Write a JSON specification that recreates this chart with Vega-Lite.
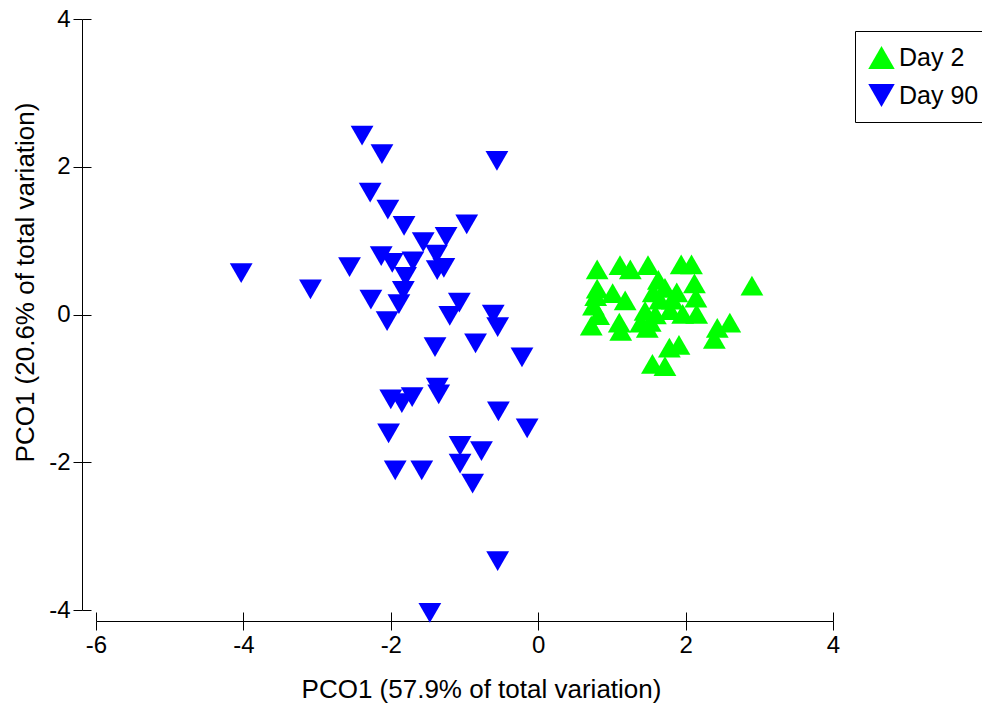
{
  "$schema": "https://vega.github.io/schema/vega-lite/v6.json",
  "autosize": "none",
  "width": 737,
  "height": 591,
  "padding": {"left": 96, "top": 19, "right": 149, "bottom": 94},
  "background": "white",
  "config": {
    "view": {"stroke": null},
    "font": "Liberation Sans",
    "axis": {"grid": false, "labelFont": "Liberation Sans", "titleFont": "Liberation Sans", "labelColor": "black", "titleColor": "black", "domainColor": "black", "tickColor": "black", "titleFontWeight": "normal"},
    "legend": {"orient": "none", "legendX": 759, "legendY": 12, "strokeColor": "black", "strokeWidth": 1, "fillColor": "white", "padding": 13, "labelFont": "Liberation Sans", "labelFontSize": 25, "labelColor": "black", "labelOffset": 4, "symbolSize": 700, "symbolStrokeWidth": 0, "rowPadding": 11, "title": null}
  },
  "datasets": {
    "pts": [
      {"x": 0.80, "y": 0.61, "day": "Day 2"},
      {"x": 1.11, "y": 0.67, "day": "Day 2"},
      {"x": 1.25, "y": 0.61, "day": "Day 2"},
      {"x": 1.49, "y": 0.67, "day": "Day 2"},
      {"x": 1.94, "y": 0.68, "day": "Day 2"},
      {"x": 2.08, "y": 0.68, "day": "Day 2"},
      {"x": 2.90, "y": 0.39, "day": "Day 2"},
      {"x": 2.12, "y": 0.42, "day": "Day 2"},
      {"x": 2.14, "y": 0.23, "day": "Day 2"},
      {"x": 1.96, "y": 0.01, "day": "Day 2"},
      {"x": 2.15, "y": 0.01, "day": "Day 2"},
      {"x": 2.60, "y": -0.11, "day": "Day 2"},
      {"x": 2.43, "y": -0.18, "day": "Day 2"},
      {"x": 2.39, "y": -0.33, "day": "Day 2"},
      {"x": 1.91, "y": -0.41, "day": "Day 2"},
      {"x": 1.78, "y": -0.45, "day": "Day 2"},
      {"x": 1.55, "y": -0.67, "day": "Day 2"},
      {"x": 1.72, "y": -0.70, "day": "Day 2"},
      {"x": 0.80, "y": 0.35, "day": "Day 2"},
      {"x": 0.78, "y": 0.25, "day": "Day 2"},
      {"x": 0.75, "y": 0.12, "day": "Day 2"},
      {"x": 1.01, "y": 0.29, "day": "Day 2"},
      {"x": 1.18, "y": 0.19, "day": "Day 2"},
      {"x": 0.72, "y": -0.15, "day": "Day 2"},
      {"x": 0.82, "y": -0.01, "day": "Day 2"},
      {"x": 1.10, "y": -0.11, "day": "Day 2"},
      {"x": 1.12, "y": -0.22, "day": "Day 2"},
      {"x": 1.39, "y": -0.11, "day": "Day 2"},
      {"x": 1.48, "y": -0.18, "day": "Day 2"},
      {"x": 1.63, "y": 0.47, "day": "Day 2"},
      {"x": 1.72, "y": 0.36, "day": "Day 2"},
      {"x": 1.65, "y": 0.20, "day": "Day 2"},
      {"x": 1.82, "y": 0.20, "day": "Day 2"},
      {"x": 1.59, "y": 0.00, "day": "Day 2"},
      {"x": 1.52, "y": -0.10, "day": "Day 2"},
      {"x": 1.79, "y": 0.06, "day": "Day 2"},
      {"x": 1.56, "y": 0.30, "day": "Day 2"},
      {"x": 1.88, "y": 0.30, "day": "Day 2"},
      {"x": 1.45, "y": 0.05, "day": "Day 2"},
      {"x": -2.39, "y": 2.42, "day": "Day 90"},
      {"x": -2.12, "y": 2.17, "day": "Day 90"},
      {"x": -0.56, "y": 2.08, "day": "Day 90"},
      {"x": -2.28, "y": 1.65, "day": "Day 90"},
      {"x": -2.04, "y": 1.42, "day": "Day 90"},
      {"x": -1.82, "y": 1.20, "day": "Day 90"},
      {"x": -0.97, "y": 1.22, "day": "Day 90"},
      {"x": -1.25, "y": 1.05, "day": "Day 90"},
      {"x": -1.56, "y": 0.98, "day": "Day 90"},
      {"x": -4.03, "y": 0.56, "day": "Day 90"},
      {"x": -3.09, "y": 0.34, "day": "Day 90"},
      {"x": -2.56, "y": 0.64, "day": "Day 90"},
      {"x": -2.13, "y": 0.79, "day": "Day 90"},
      {"x": -1.98, "y": 0.70, "day": "Day 90"},
      {"x": -1.70, "y": 0.72, "day": "Day 90"},
      {"x": -1.80, "y": 0.51, "day": "Day 90"},
      {"x": -1.83, "y": 0.32, "day": "Day 90"},
      {"x": -1.89, "y": 0.14, "day": "Day 90"},
      {"x": -1.38, "y": 0.81, "day": "Day 90"},
      {"x": -1.37, "y": 0.60, "day": "Day 90"},
      {"x": -1.28, "y": 0.63, "day": "Day 90"},
      {"x": -2.27, "y": 0.20, "day": "Day 90"},
      {"x": -2.05, "y": -0.09, "day": "Day 90"},
      {"x": -1.07, "y": 0.16, "day": "Day 90"},
      {"x": -1.20, "y": -0.02, "day": "Day 90"},
      {"x": -0.61, "y": 0.00, "day": "Day 90"},
      {"x": -0.55, "y": -0.17, "day": "Day 90"},
      {"x": -1.40, "y": -0.44, "day": "Day 90"},
      {"x": -0.85, "y": -0.39, "day": "Day 90"},
      {"x": -0.22, "y": -0.58, "day": "Day 90"},
      {"x": -2.00, "y": -1.15, "day": "Day 90"},
      {"x": -1.85, "y": -1.20, "day": "Day 90"},
      {"x": -1.71, "y": -1.12, "day": "Day 90"},
      {"x": -1.37, "y": -0.99, "day": "Day 90"},
      {"x": -1.35, "y": -1.08, "day": "Day 90"},
      {"x": -0.54, "y": -1.31, "day": "Day 90"},
      {"x": -2.03, "y": -1.61, "day": "Day 90"},
      {"x": -1.94, "y": -2.11, "day": "Day 90"},
      {"x": -1.58, "y": -2.11, "day": "Day 90"},
      {"x": -1.06, "y": -1.78, "day": "Day 90"},
      {"x": -0.77, "y": -1.85, "day": "Day 90"},
      {"x": -1.06, "y": -2.02, "day": "Day 90"},
      {"x": -0.89, "y": -2.29, "day": "Day 90"},
      {"x": -0.15, "y": -1.54, "day": "Day 90"},
      {"x": -0.55, "y": -3.34, "day": "Day 90"},
      {"x": -1.47, "y": -4.04, "day": "Day 90"}
    ]
  },
  "data": {"name": "pts"},
  "resolve": {"axis": {"x": "independent", "y": "independent"}},
  "layer": [
    {
      "transform": [{"filter": "datum.day === 'Day 2'"}],
      "mark": {"type": "point", "filled": true, "opacity": 1, "size": 520, "strokeWidth": 0},
      "encoding": {
        "x": {"field": "x", "type": "quantitative", "scale": {"domain": [-6, 4], "nice": false, "zero": false},
          "axis": {"orient": "bottom", "offset": 11, "values": [-6, -4, -2, 0, 2, 4], "labelExpr": "'' + datum.value", "tickSize": 9, "tickWidth": 1, "domainWidth": 1, "labelFontSize": 24, "labelPadding": 3, "labelFlush": false, "title": "PCO1 (57.9% of total variation)", "titleFontSize": 26, "titleX": 385, "titleY": 76, "titleBaseline": "alphabetic", "titleAnchor": null, "titleAlign": "center"}},
        "y": {"field": "y", "type": "quantitative", "scale": {"domain": [-4, 4], "nice": false, "zero": false},
          "axis": {"orient": "left", "offset": 14, "values": [-4, -2, 0, 2, 4], "labelExpr": "'' + datum.value", "tickSize": 9, "tickWidth": 1, "domainWidth": 1, "labelFontSize": 24, "labelPadding": 3, "labelFlush": false, "title": "PCO1 (20.6% of total variation)", "titleFontSize": 26, "titleX": -49, "titleY": 263, "titleAngle": -90, "titleBaseline": "alphabetic", "titleAlign": "center", "titleAnchor": null}},
        "color": {"field": "day", "type": "nominal", "scale": {"domain": ["Day 2", "Day 90"], "range": ["#00ff00", "#0000ff"]}, "legend": {"title": null}},
        "shape": {"field": "day", "type": "nominal", "scale": {"domain": ["Day 2", "Day 90"], "range": ["triangle-up", "triangle-down"]}, "legend": {"title": null}}
      }
    },
    {
      "transform": [{"filter": "datum.day === 'Day 90'"}],
      "mark": {"type": "point", "filled": true, "opacity": 1, "size": 520, "strokeWidth": 0},
      "encoding": {
        "x": {"field": "x", "type": "quantitative",
          "axis": {"orient": "bottom", "offset": 11, "values": [-6, -4, -2, 0, 2, 4], "tickSize": -9, "tickWidth": 1, "domain": false, "labels": false, "title": null}},
        "y": {"field": "y", "type": "quantitative",
          "axis": {"orient": "left", "offset": 14, "values": [-4, -2, 0, 2, 4], "tickSize": -9, "tickWidth": 1, "domain": false, "labels": false, "title": null}},
        "color": {"field": "day", "type": "nominal", "legend": {"title": null}},
        "shape": {"field": "day", "type": "nominal", "legend": {"title": null}}
      }
    }
  ]
}
